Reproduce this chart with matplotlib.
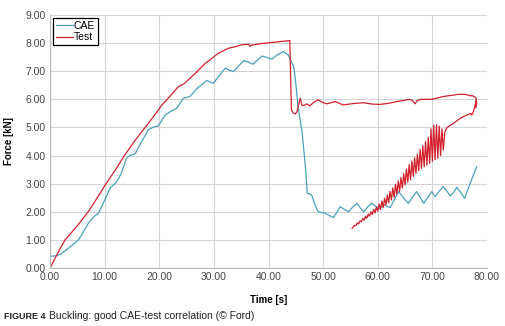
import matplotlib.pyplot as plt

# CAE simulation
cae_t = [0.0, 1.0, 2.0, 3.5, 5.2, 6.0, 7.0, 8.0, 8.85, 9.5, 11.0, 12.2, 13.0, 14.0, 14.6,
         15.6, 16.5, 18.0, 19.0, 19.8, 21.1, 22.0, 23.2, 24.4, 25.6, 27.0, 28.7, 29.9,
         31.0, 32.1, 33.0, 33.6, 34.6, 35.5, 36.4, 37.2, 38.0, 38.8, 39.7, 40.6, 41.6,
         42.7, 43.6, 44.6, 45.0, 45.4, 45.8, 46.1, 46.7, 47.1, 47.9, 48.5, 49.1, 50.4,
         51.2, 51.9, 52.5, 53.1, 53.8, 54.6, 55.4, 56.2, 56.8, 57.4, 58.1, 58.9, 59.6,
         60.4, 61.0, 61.6, 62.3, 63.0, 63.8, 64.7, 65.6, 66.3, 67.1, 67.8, 68.4, 69.1,
         69.9, 70.5, 71.2, 72.0, 72.7, 73.3, 73.9, 74.5, 75.2, 75.9, 76.5, 77.3, 78.1]
cae_f = [0.42, 0.43, 0.50, 0.72, 1.00, 1.25, 1.59, 1.82, 1.95, 2.20, 2.84, 3.07, 3.35, 3.90, 4.00,
         4.06, 4.40, 4.91, 5.02, 5.05, 5.44, 5.56, 5.68, 6.04, 6.10, 6.40, 6.67, 6.57,
         6.85, 7.11, 7.02, 6.99, 7.20, 7.38, 7.32, 7.25, 7.40, 7.54, 7.49, 7.43, 7.58,
         7.70, 7.58, 7.17, 6.57, 5.74, 5.27, 4.91, 3.73, 2.66, 2.60, 2.25, 2.00, 1.95,
         1.86, 1.80, 1.98, 2.18, 2.10, 2.00, 2.16, 2.30, 2.14, 2.00, 2.16, 2.30, 2.20,
         2.12, 2.26, 2.20, 2.15, 2.42, 2.72, 2.50, 2.30, 2.50, 2.72, 2.50, 2.30, 2.50,
         2.72, 2.54, 2.72, 2.90, 2.72, 2.56, 2.70, 2.87, 2.68, 2.48, 2.80, 3.20, 3.60]

# Test measurement: loading, drop, upper branch, then the return branch
test_t = [0.0, 1.2, 2.75, 5.0, 7.0, 8.5, 10.1, 12.0, 13.7, 15.5, 17.4, 19.0, 20.5, 22.0,
          23.5, 24.5, 25.3, 27.0, 28.4, 29.6, 30.8, 32.7, 33.5, 35.1, 36.4, 36.6, 36.9,
          38.5, 40.5, 42.0, 43.9, 44.0, 44.2, 44.5, 44.9, 45.2, 45.8, 46.1, 46.5, 47.0,
          47.6, 48.3, 49.1, 50.0, 50.7, 52.2, 53.7, 55.5, 57.4, 59.0, 60.4, 62.0, 63.5,
          65.9, 66.4, 66.8, 67.2, 67.8, 69.9, 72.0, 74.8, 76.0, 76.9, 77.5, 78.0, 78.1,
          77.9, 78.05, 77.5, 77.2, 77.0, 76.3, 75.1, 73.9, 72.7, 72.3,
          72.0, 71.75, 71.5, 71.25, 71.0, 70.75, 70.5, 70.25, 70.0, 69.75, 69.5, 69.25,
          69.0, 68.75, 68.5, 68.25, 68.0, 67.75, 67.5, 67.25, 67.0, 66.75, 66.5, 66.25,
          66.0, 65.75, 65.5, 65.25, 65.0, 64.75, 64.5, 64.25, 64.0, 63.75, 63.5, 63.25,
          63.0, 62.75, 62.5, 62.25, 62.0, 61.75, 61.5, 61.25, 61.0, 60.75, 60.5, 60.25,
          60.0, 59.75, 59.5, 59.25, 59.0, 58.75, 58.5, 58.25, 58.0, 57.75, 57.5, 57.25,
          57.0, 56.75, 56.5, 56.25, 56.0, 55.75, 55.3]
test_f = [0.0, 0.45, 1.0, 1.5, 2.0, 2.45, 2.95, 3.5, 4.02, 4.52, 5.0, 5.4, 5.8, 6.12,
          6.45, 6.55, 6.69, 7.0, 7.28, 7.45, 7.64, 7.82, 7.85, 7.94, 7.96, 7.88, 7.93,
          7.98, 8.02, 8.05, 8.09, 7.2, 5.62, 5.52, 5.48, 5.55, 6.04, 5.8, 5.78, 5.84,
          5.77, 5.9, 5.98, 5.88, 5.84, 5.92, 5.8, 5.85, 5.88, 5.83, 5.82, 5.86, 5.92,
          6.0, 5.95, 5.84, 5.95, 6.0, 6.0, 6.1, 6.18, 6.18, 6.13, 6.12, 6.04, 5.85,
          5.7, 5.95, 5.56, 5.44, 5.5, 5.44, 5.33, 5.15, 5.0, 4.85,
          4.20, 4.95, 4.00, 5.05, 3.90, 5.10, 3.85, 5.08, 3.80, 4.95, 3.72, 4.65,
          3.66, 4.50, 3.60, 4.35, 3.54, 4.22, 3.46, 4.05, 3.36, 3.92, 3.26, 3.80,
          3.14, 3.68, 3.06, 3.52, 2.96, 3.36, 2.84, 3.22, 2.72, 3.10, 2.62, 2.98,
          2.52, 2.85, 2.42, 2.72, 2.32, 2.60, 2.24, 2.48, 2.15, 2.38, 2.08, 2.27,
          2.02, 2.17, 1.96, 2.08, 1.90, 2.00, 1.84, 1.92, 1.77, 1.84, 1.70, 1.76,
          1.64, 1.68, 1.57, 1.60, 1.50, 1.52, 1.41]

x_ticks = [0, 10, 20, 30, 40, 50, 60, 70, 80]
y_ticks = [0, 1, 2, 3, 4, 5, 6, 7, 8, 9]

CAE_COLOR = "#4a9fc0"
TEST_COLOR = "#d2202c"
GRID_COLOR = "#d4d4d4"

plt.rcParams["font.family"] = ["Liberation Sans", "DejaVu Sans"]

fig = plt.figure(figsize=(5.05, 3.26), dpi=100)
ax = fig.add_axes([50 / 505, 1 - 268 / 326, 437 / 505, 253 / 326])

ax.plot(cae_t, cae_f, color=CAE_COLOR, lw=0.9, label="CAE")
ax.plot(test_t, test_f, color=TEST_COLOR, lw=0.9, label="Test")

ax.set_xlim(0, 80)
ax.set_ylim(0, 9)
ax.set_xticks(x_ticks)
ax.set_yticks(y_ticks)
ax.set_xticklabels([f"{v:.2f}" for v in x_ticks])
ax.set_yticklabels([f"{v:.2f}" for v in y_ticks])
ax.tick_params(length=0, labelsize=7.5, colors="#444444", pad=3)
ax.grid(True, color=GRID_COLOR, lw=0.8)
ax.set_axisbelow(True)
for side in ["top", "right"]:
    ax.spines[side].set_visible(False)
for side in ["left", "bottom"]:
    ax.spines[side].set_color("#b8b8b8")
    ax.spines[side].set_linewidth(0.8)

ax.set_xlabel("Time [s]", fontsize=7, fontweight="bold", labelpad=9)
ax.set_ylabel("Force [kN]", fontsize=7, fontweight="bold", labelpad=8)

leg = ax.legend(loc="upper left", bbox_to_anchor=(0.007, 0.99), fontsize=7.5,
                handlelength=1.6, handletextpad=0.1, borderpad=0.3, labelspacing=0.15,
                fancybox=False, framealpha=1, borderaxespad=0)
leg.get_frame().set_edgecolor("black")
leg.get_frame().set_linewidth(0.9)

fig.text(0.008, 0.022, "FIGURE 4", fontsize=6.5, fontweight="bold", color="#222222")
fig.text(0.098, 0.022, "Buckling: good CAE-test correlation (© Ford)", fontsize=7.5,
         color="#222222")

fig.savefig("out.png", dpi=100)
